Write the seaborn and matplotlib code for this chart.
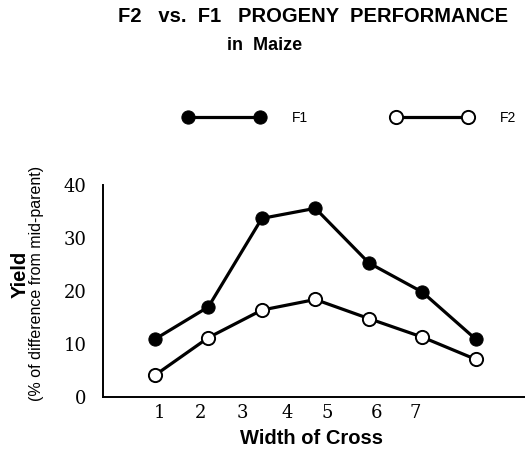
import numpy as np
import pandas as pd
import matplotlib
matplotlib.use('Agg')
import matplotlib.pyplot as plt
import seaborn as sns

# data
width = [1, 2, 3, 4, 5, 6, 7]
f1 = [10.9, 17.0, 33.7, 35.6, 25.3, 19.8, 10.9]
f2 = [4.1, 11.2, 16.4, 18.4, 14.8, 11.3, 7.1]
x_ticklabels = ['1', '2', '3', '4', '5', '6', '7']
y_ticks = [0, 10, 20, 30, 40]

# the printed tick labels sit off the points in the original
x_tickpos = [1.09, 1.86, 2.64, 3.47, 4.23, 5.15, 5.86]

df = pd.DataFrame({'Width': width + width,
                   'Yield': f1 + f2,
                   'Gen': ['F1'] * 7 + ['F2'] * 7})

sns.set_style('white')
plt.rcParams['font.family'] = ['Liberation Sans', 'DejaVu Sans']
plt.rcParams['text.color'] = 'black'
plt.rcParams['xtick.color'] = 'black'
plt.rcParams['ytick.color'] = 'black'

fig = plt.figure(figsize=(5.25, 4.51), dpi=100)
ax = fig.add_axes([103 / 525, 54 / 451, 422 / 525, 212 / 451])

sns.lineplot(data=df[df.Gen == 'F1'], x='Width', y='Yield', ax=ax,
             color='black', lw=2.3, marker='o', markersize=9.5,
             markerfacecolor='black', markeredgecolor='black',
             label='F1')
sns.lineplot(data=df[df.Gen == 'F2'], x='Width', y='Yield', ax=ax,
             color='black', lw=2.3, marker='o', markersize=9.5,
             markerfacecolor='white', markeredgecolor='black',
             markeredgewidth=1.4, label='F2')

ax.set_xlim(0.03, 7.92)
ax.set_ylim(0, 40)
ax.set_xticks(x_tickpos)
ax.set_xticklabels(x_ticklabels, family='DejaVu Serif', fontsize=13)
ax.set_yticks(y_ticks)
ax.set_yticklabels([str(v) for v in y_ticks], family='DejaVu Serif', fontsize=13)
ax.tick_params(axis='both', direction='in', length=3, width=1, color='black')
ax.tick_params(axis='x', pad=5)
ax.tick_params(axis='y', pad=12)

for s in ['top', 'right']:
    ax.spines[s].set_visible(False)
for s in ['left', 'bottom']:
    ax.spines[s].set_color('black')
    ax.spines[s].set_linewidth(1.4)

ax.set_xlabel('')
ax.set_ylabel('')

fig.text(311 / 525, 1 - 438 / 451, 'Width of Cross', ha='center', va='center',
         fontsize=14.5, fontweight='bold')
fig.text(20 / 525, 1 - 274 / 451, 'Yield', rotation=90, ha='center', va='center',
         fontsize=14.5, fontweight='bold')
fig.text(37 / 525, 1 - 283 / 451, '(% of difference from mid-parent)', rotation=90,
         ha='center', va='center', fontsize=11.5)

fig.text(313 / 525, 1 - 16 / 451, 'F2   vs.  F1   PROGENY  PERFORMANCE',
         ha='center', va='center', fontsize=14.5, fontweight='bold')
fig.text(265 / 525, 1 - 46 / 451, 'in  Maize',
         ha='center', va='center', fontsize=13, fontweight='bold')

ax.get_legend().remove()
handles, labels = ax.get_legend_handles_labels()
fig.legend(handles, labels, ncol=2, numpoints=2, frameon=False,
           loc='center', bbox_to_anchor=(350 / 525, 1 - 118 / 451),
           handlelength=5.8, handletextpad=2.0, columnspacing=6.0,
           fontsize=10, borderaxespad=0, borderpad=0)

fig.savefig('out.png', dpi=100)
